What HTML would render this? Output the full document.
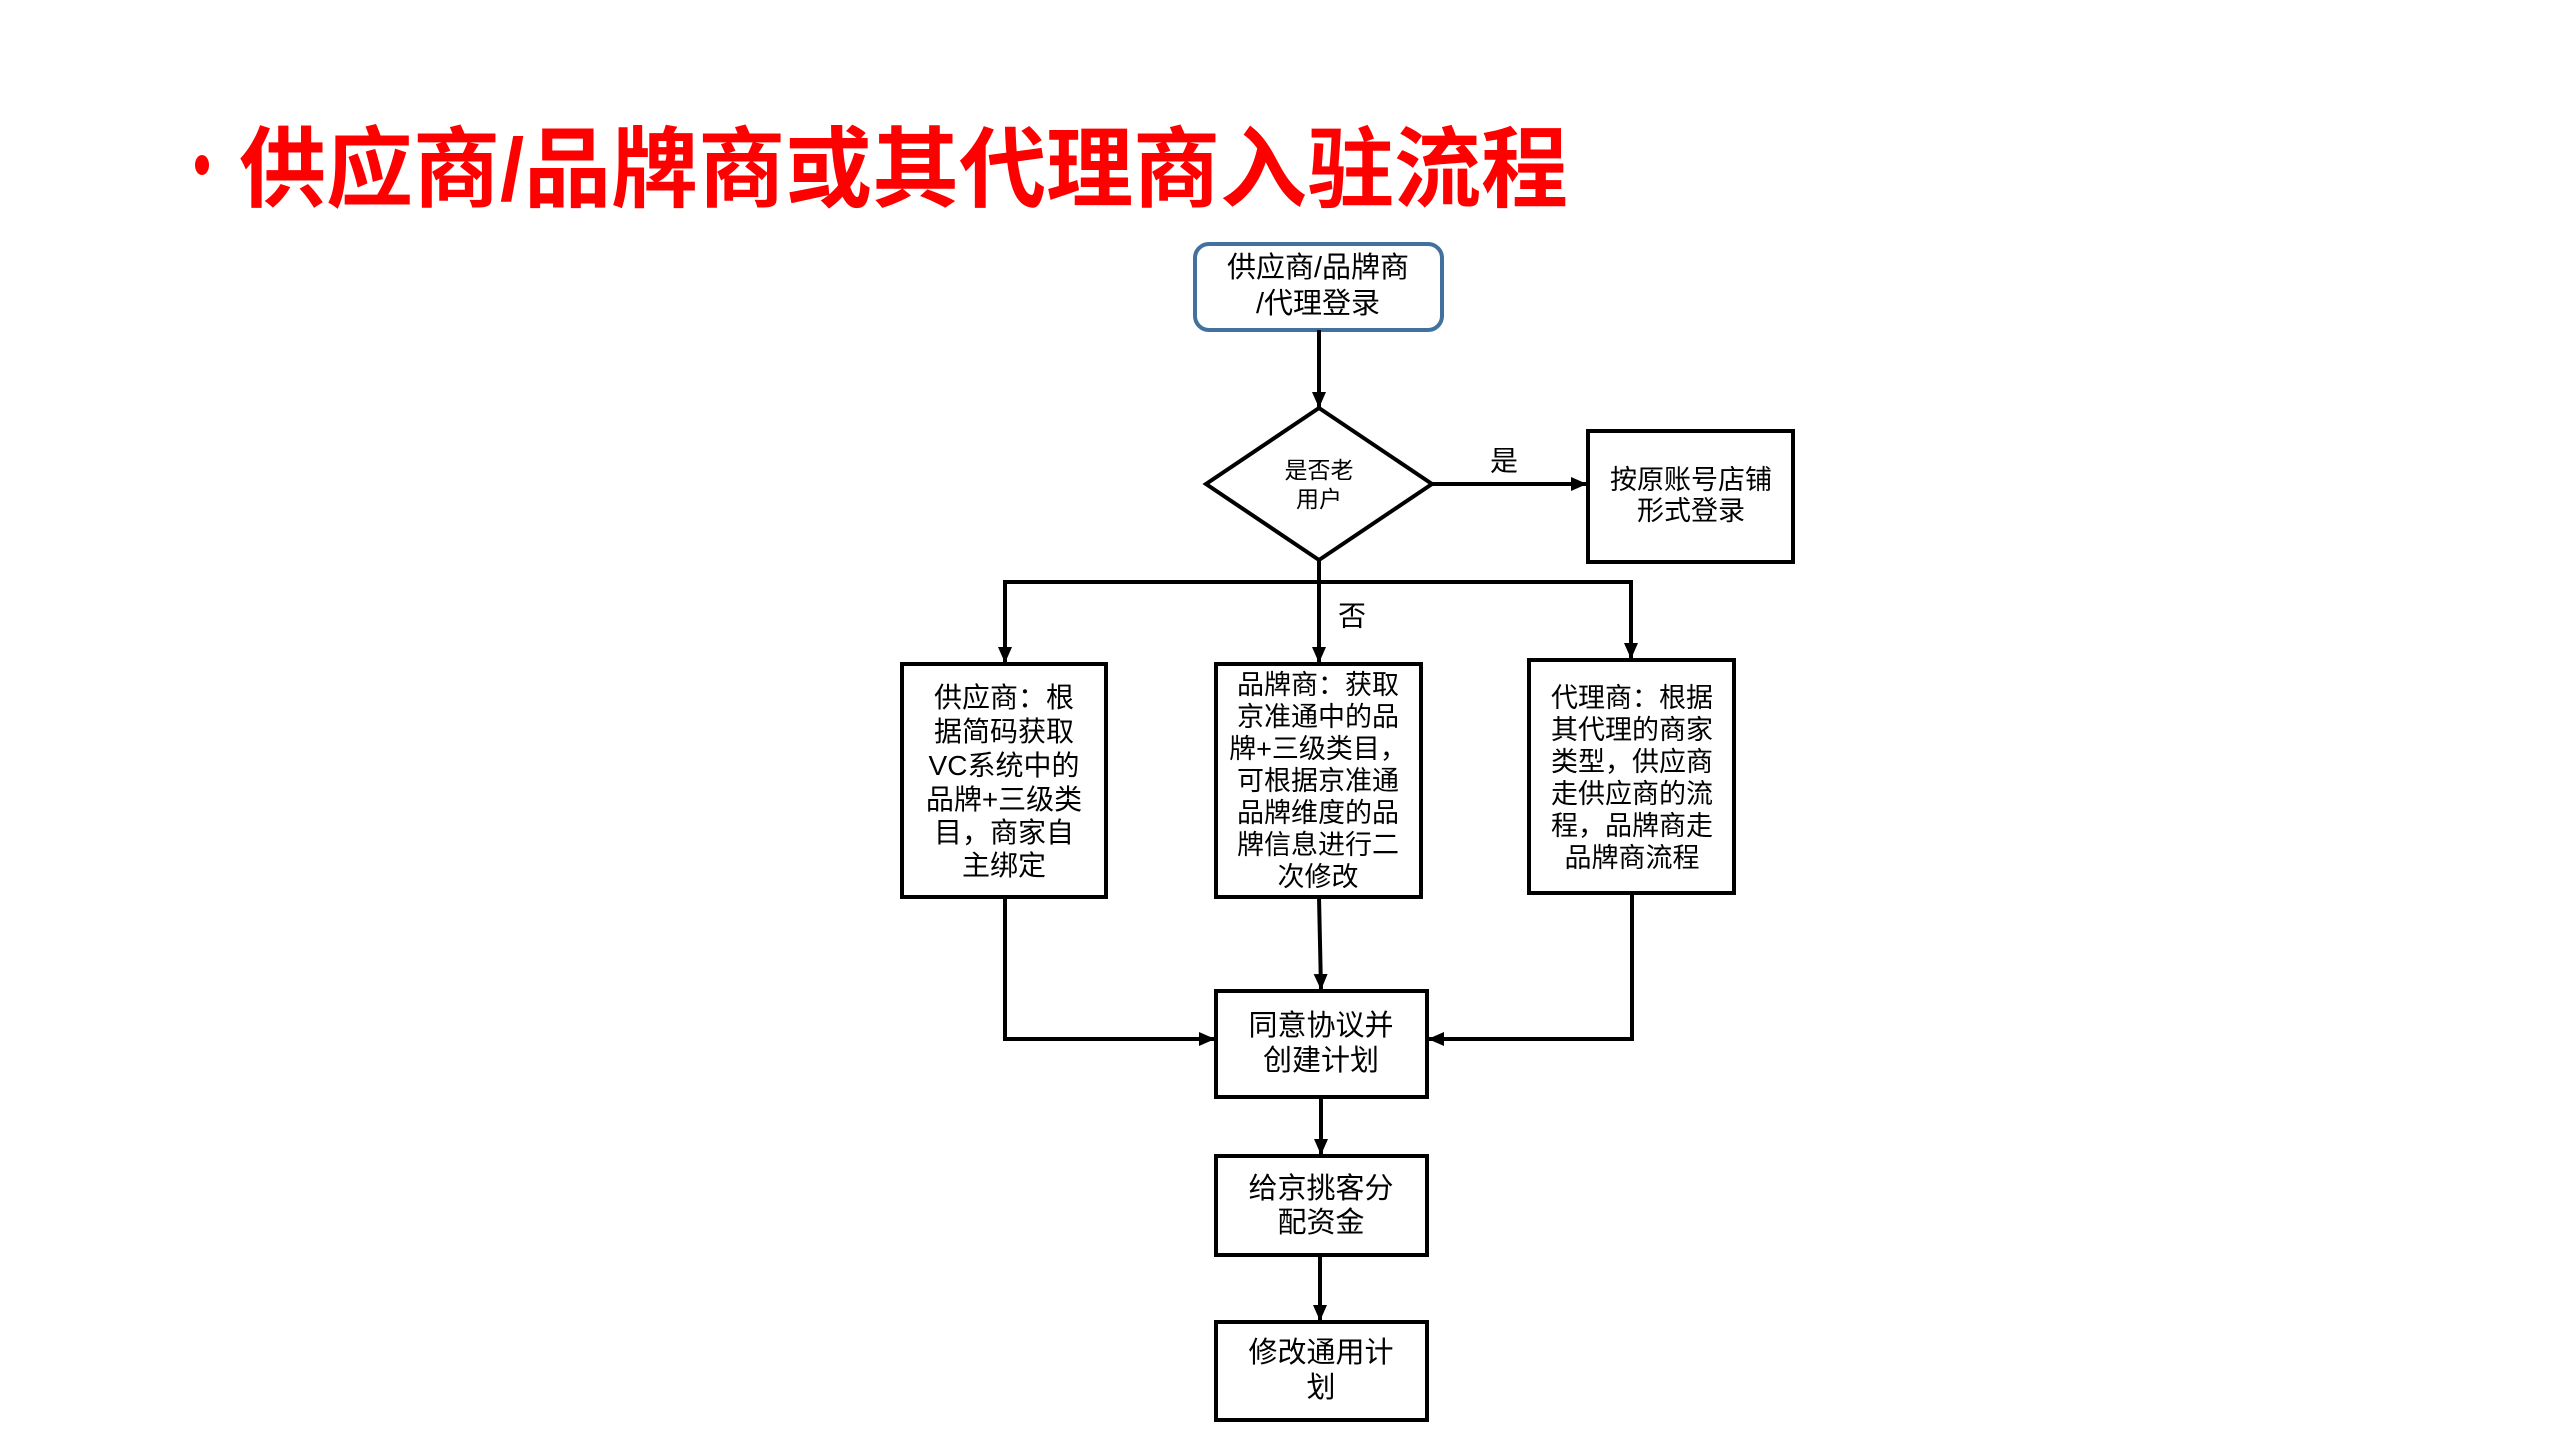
<!DOCTYPE html>
<html><head><meta charset="utf-8"><style>
html,body{margin:0;padding:0;background:#fff;width:2560px;height:1440px;overflow:hidden}
svg{display:block}
text{font-family:"Liberation Sans","Noto Sans CJK SC",sans-serif;fill:#000}
</style></head><body>
<svg width="2560" height="1440" viewBox="0 0 2560 1440" xmlns="http://www.w3.org/2000/svg">
<defs>
<marker id="a" markerWidth="16" markerHeight="14" refX="15" refY="7" orient="auto" markerUnits="userSpaceOnUse">
<path d="M0,0 L16,7 L0,14 Z" fill="#000"/></marker>
</defs>
<ellipse cx="202" cy="165" rx="7" ry="10" fill="#ff0000"/>
<text x="239" y="200" font-size="88" font-weight="bold" textLength="1329" lengthAdjust="spacingAndGlyphs" style="fill:#ff0000">供应商/品牌商或其代理商入驻流程</text>

<g fill="none" stroke="#000" stroke-width="4">
<rect x="1195" y="244" width="247" height="86" rx="14" stroke="#41719c" stroke-width="4"/>
<polygon points="1319,408 1432,484 1319,560 1206,484"/>
<rect x="1588" y="431" width="205" height="131"/>
<rect x="902" y="664" width="204" height="233"/>
<rect x="1216" y="664" width="205" height="233"/>
<rect x="1529" y="660" width="205" height="233"/>
<rect x="1216" y="991" width="211" height="106"/>
<rect x="1216" y="1156" width="211" height="99"/>
<rect x="1216" y="1322" width="211" height="98"/>
</g>
<g fill="none" stroke="#000" stroke-width="4">
<line x1="1319" y1="330" x2="1319" y2="407" marker-end="url(#a)"/>
<line x1="1432" y1="484" x2="1586" y2="484" marker-end="url(#a)"/>
<polyline points="1319,560 1319,582"/>
<line x1="1005" y1="582" x2="1633" y2="582"/>
<line x1="1005" y1="580" x2="1005" y2="662" marker-end="url(#a)"/>
<line x1="1319" y1="582" x2="1319" y2="662" marker-end="url(#a)"/>
<line x1="1631" y1="580" x2="1631" y2="658" marker-end="url(#a)"/>
<line x1="1319" y1="897" x2="1321" y2="989" marker-end="url(#a)"/>
<polyline points="1005,897 1005,1039 1214,1039" marker-end="url(#a)"/>
<polyline points="1632,893 1632,1039 1429,1039" marker-end="url(#a)"/>
<line x1="1321" y1="1097" x2="1321" y2="1154" marker-end="url(#a)"/>
<line x1="1320" y1="1255" x2="1320" y2="1320" marker-end="url(#a)"/>
</g>
<g text-anchor="middle" dominant-baseline="central">
<text font-size="29"><tspan x="1318" y="268">供应商/品牌商</tspan><tspan x="1318" y="304">/代理登录</tspan></text>
<text font-size="23"><tspan x="1319" y="470">是否老</tspan><tspan x="1319" y="499">用户</tspan></text>
<text font-size="28" x="1504" y="461">是</text>
<text font-size="27"><tspan x="1691" y="480">按原账号店铺</tspan><tspan x="1691" y="511">形式登录</tspan></text>
<text font-size="28" x="1352" y="616">否</text>
<text font-size="28"><tspan x="1004" y="697">供应商：根</tspan><tspan x="1004" y="731">据简码获取</tspan><tspan x="1004" y="765">VC系统中的</tspan><tspan x="1004" y="799">品牌+三级类</tspan><tspan x="1004" y="832">目，商家自</tspan><tspan x="1004" y="865">主绑定</tspan></text>
<text font-size="27"><tspan x="1318" y="685">品牌商：获取</tspan><tspan x="1318" y="717">京准通中的品</tspan><tspan x="1318" y="749">牌+三级类目，</tspan><tspan x="1318" y="781">可根据京准通</tspan><tspan x="1318" y="813">品牌维度的品</tspan><tspan x="1318" y="845">牌信息进行二</tspan><tspan x="1318" y="877">次修改</tspan></text>
<text font-size="27"><tspan x="1632" y="698">代理商：根据</tspan><tspan x="1632" y="730">其代理的商家</tspan><tspan x="1632" y="762">类型，供应商</tspan><tspan x="1632" y="794">走供应商的流</tspan><tspan x="1632" y="826">程，品牌商走</tspan><tspan x="1632" y="858">品牌商流程</tspan></text>
<text font-size="29"><tspan x="1321" y="1026">同意协议并</tspan><tspan x="1321" y="1061">创建计划</tspan></text>
<text font-size="29"><tspan x="1321" y="1189">给京挑客分</tspan><tspan x="1321" y="1223">配资金</tspan></text>
<text font-size="29"><tspan x="1321" y="1353">修改通用计</tspan><tspan x="1321" y="1388">划</tspan></text>
</g>
</svg>
</body></html>
